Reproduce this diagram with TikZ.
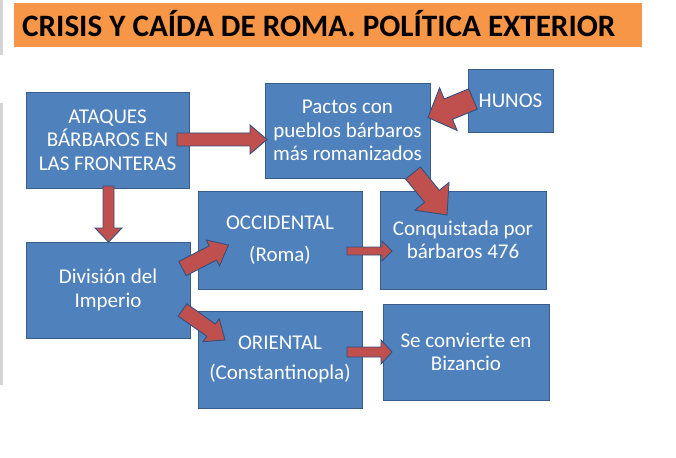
\documentclass[tikz,border=0pt]{standalone}
\usepackage{fontspec}
\setmainfont{Carlito}
\usetikzlibrary{calc}
\definecolor{boxfill}{HTML}{4F81BD}
\definecolor{boxline}{HTML}{385D8A}
\definecolor{arrfill}{HTML}{C0504D}
\definecolor{arrline}{HTML}{34507F}
\definecolor{titlebar}{HTML}{F79646}
\definecolor{edgegray}{HTML}{D4D4D4}
\tikzset{
  box/.style={draw=boxline, line width=0.8pt, fill=boxfill, text=white, align=center,
    inner sep=0pt, font=\fontsize{21}{23.3}\selectfont},
  barr/.style={fill=arrfill, draw=arrline, line width=0.9pt, line join=miter},
}
% #1 name, #2 tail, #3 tip, #4 shaft half width, #5 head half width, #6 head length
\newcommand\blockarr[6]{%
  \coordinate (#1c) at ($(#3)!#6!(#2)$);
  \draw[barr] ($(#2)!#4!90:(#3)$) -- ($(#1c)!#4!90:(#3)$) -- ($(#1c)!#5!90:(#3)$)
    -- (#3) -- ($(#1c)!#5!-90:(#3)$) -- ($(#1c)!#4!-90:(#3)$) -- ($(#2)!#4!-90:(#3)$) -- cycle;
}
\begin{document}
\begin{tikzpicture}[x=1pt,y=-1pt]
\useasboundingbox (0,0) rectangle (676,457);
\fill[white] (0,0) rectangle (676,457);
\fill[edgegray] (0,0) rectangle (2.5,55);
\fill[edgegray] (0,103) rectangle (2.5,385);
% title
\fill[titlebar] (14,3) rectangle (642,47);
\node[anchor=base west, inner sep=0pt, text=black] (title) at (22,37)
  {\resizebox{593pt}{!}{\bfseries CRISIS Y CAÍDA DE ROMA. POLÍTICA EXTERIOR}};
% boxes
\node[box, minimum width=163pt, minimum height=96pt] (ataques) at (107.5,140)
  {ATAQUES\\BÁRBAROS EN\\LAS FRONTERAS};
\node[box, minimum width=165pt, minimum height=95pt] (pactos) at (347.5,130.5)
  {Pactos con\\pueblos bárbaros\\más romanizados};
\node[box, minimum width=85pt, minimum height=63pt] (hunos) at (510.5,100.5) {HUNOS};
\node[box, minimum width=164pt, minimum height=98pt] (occ) at (280,240)
  {OCCIDENTAL\\[8pt](Roma)};
\node[box, minimum width=166pt, minimum height=98pt] (conq) at (463,240)
  {Conquistada por\\bárbaros 476};
\node[box, minimum width=164pt, minimum height=96pt] (div) at (108,290)
  {División del\\Imperio};
\node[box, minimum width=164pt, minimum height=97pt] (ori) at (280,359.5)
  {ORIENTAL\\[7pt](Constantinopla)};
\node[box, minimum width=166pt, minimum height=96pt] (biz) at (466,352)
  {Se convierte en\\Bizancio};
% arrow end points
\coordinate (a1t) at (177,139.5);   \coordinate (a1h) at (267,139.5);
\coordinate (a2t) at (473,99);      \coordinate (a2h) at (428,117.5);
\coordinate (a3t) at (413,173);     \coordinate (a3h) at (447,215);
\coordinate (a4t) at (108.5,186);   \coordinate (a4h) at (108.5,242);
\coordinate (a5t) at (182.5,268.5); \coordinate (a5h) at (228.5,245);
\coordinate (a6t) at (182.5,310);   \coordinate (a6h) at (225,340);
\coordinate (a7t) at (347,251);     \coordinate (a7h) at (392,251);
\coordinate (a8t) at (347,352);     \coordinate (a8h) at (392,352);
% block arrows
\blockarr{ar1}{a1t}{a1h}{6.5pt}{14.5pt}{17pt}
\blockarr{ar2}{a2t}{a2h}{11pt}{23pt}{22pt}
\blockarr{ar3}{a3t}{a3h}{9.5pt}{22pt}{24pt}
\blockarr{ar4}{a4t}{a4h}{5.5pt}{13.5pt}{14pt}
\blockarr{ar5}{a5t}{a5h}{8pt}{14.5pt}{17.5pt}
\blockarr{ar6}{a6t}{a6h}{7.5pt}{14pt}{17pt}
\blockarr{ar7}{a7t}{a7h}{4pt}{10pt}{10pt}
\blockarr{ar8}{a8t}{a8h}{5pt}{12pt}{11pt}
\end{tikzpicture}
\end{document}
